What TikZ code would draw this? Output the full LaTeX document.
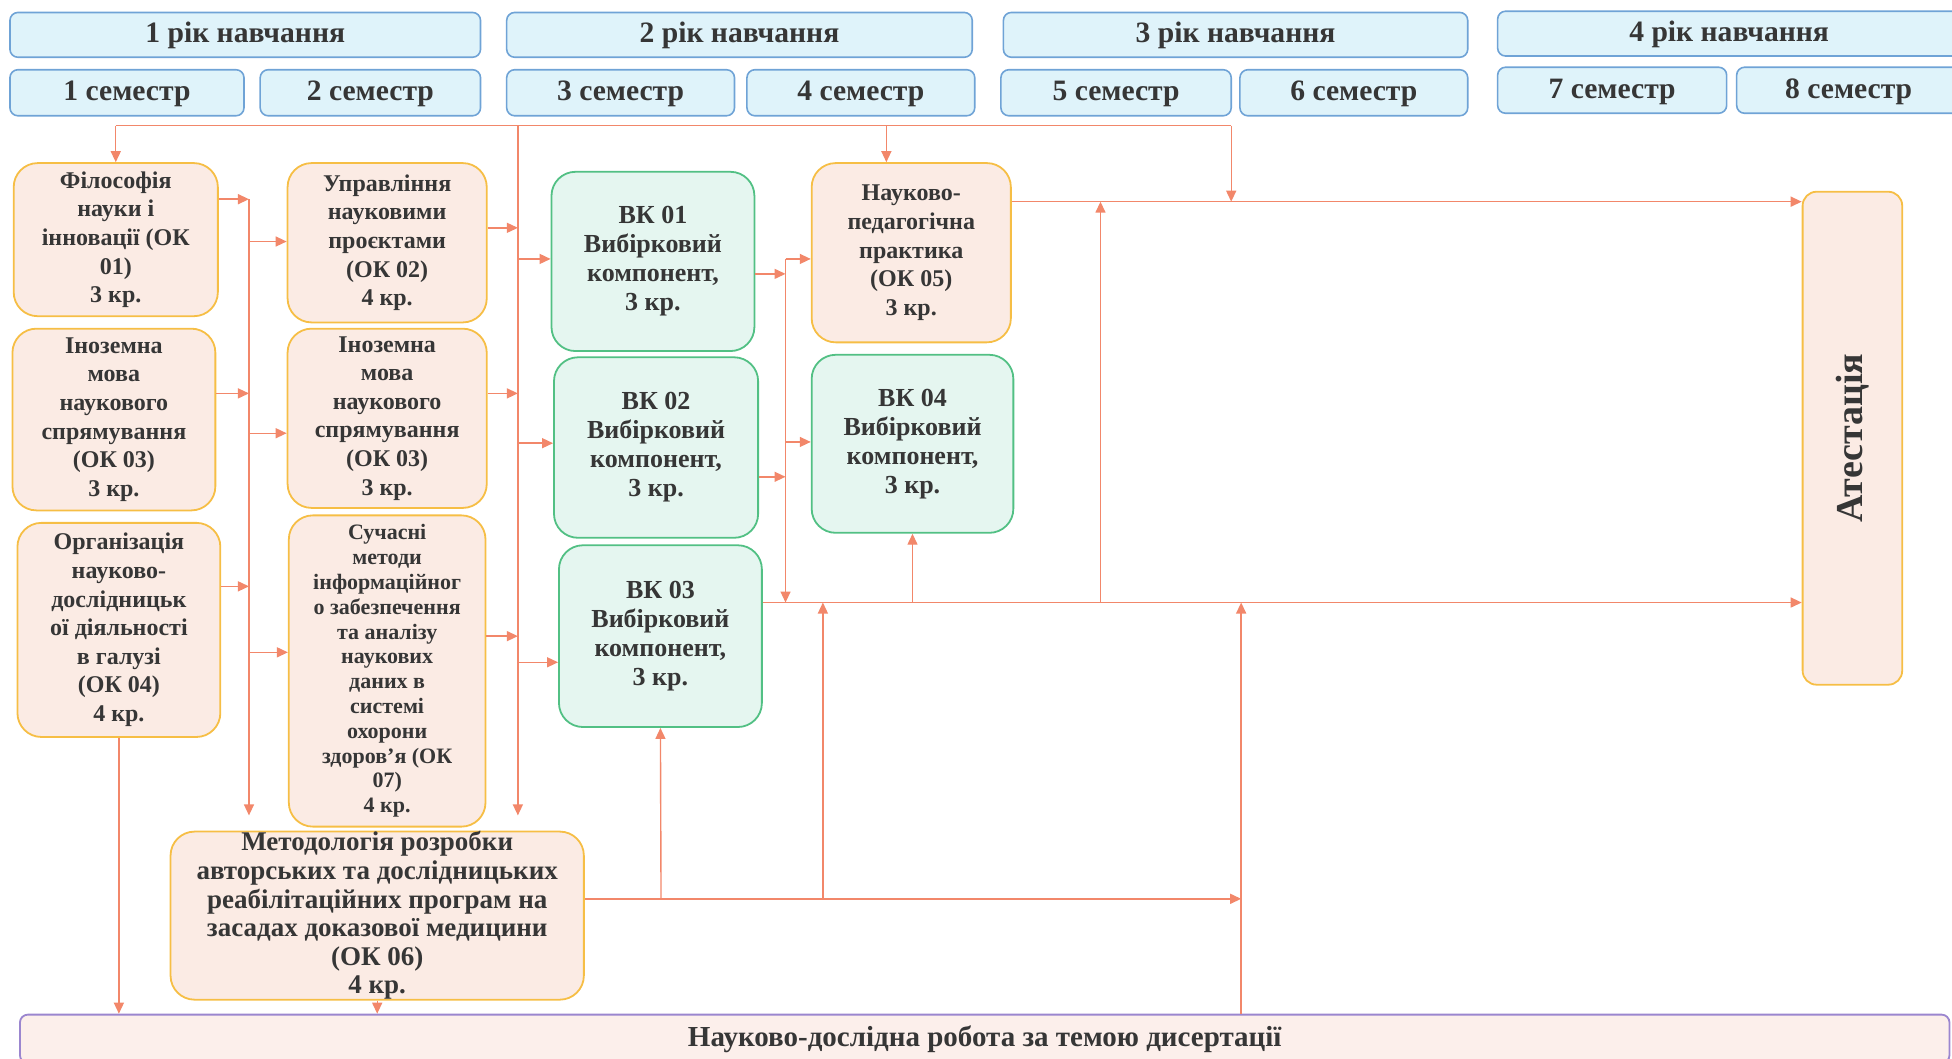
\documentclass[tikz,border=0pt]{standalone}
\usepackage{fontspec}
\usepackage{graphicx}
\setmainfont{Liberation Serif}
\usetikzlibrary{arrows.meta}

\newcommand{\planunit}{0.6224pt}

\definecolor{PlanText}{HTML}{363636}
\definecolor{PeriodLine}{HTML}{6FA3D6}
\definecolor{PeriodFill}{HTML}{DFF3FA}
\definecolor{CourseLine}{HTML}{F6BE45}
\definecolor{CourseFill}{HTML}{FBEBE4}
\definecolor{ElectiveLine}{HTML}{52C084}
\definecolor{ElectiveFill}{HTML}{E5F6F0}
\definecolor{ResearchLine}{HTML}{9B86CF}
\definecolor{ResearchFill}{HTML}{FCEFEB}
\definecolor{FlowOrange}{HTML}{F2876A}

\tikzstyle{period-box}=[draw=PeriodLine, fill=PeriodFill, rounded corners=4pt, line width=0.8pt,
      inner sep=0pt, text=PlanText, text height=10pt, text depth=2pt, font=\fontsize{14.8}{16}\selectfont\bfseries]
\tikzstyle{course-box}=[draw=CourseLine, fill=CourseFill, rounded corners=12pt, line width=0.9pt,
      inner sep=0pt, align=center, text=PlanText, font=\fontsize{12}{14.3}\selectfont\bfseries]
\tikzstyle{elective-box}=[course-box, draw=ElectiveLine, fill=ElectiveFill, font=\fontsize{13}{14.5}\selectfont\bfseries]
\tikzstyle{flow-line}=[draw=FlowOrange, line width=0.7pt]
\tikzstyle{flow}=[flow-line, -{Triangle[length=5.5pt, width=5pt]}]
\tikzset{box-size/.style 2 args={minimum width=#1*\planunit, minimum height=#2*\planunit}}

\begin{document}
\begin{tikzpicture}[x=\planunit, y=-\planunit]
      \useasboundingbox (0,0) rectangle (1568,850);

      \node (year-1) at (197, 28)   [period-box, box-size={378}{36}] {1 рік навчання};
      \node (year-2) at (594, 28)   [period-box, box-size={374}{36}] {2 рік навчання};
      \node (year-3) at (992.5, 28) [period-box, box-size={373}{36}] {3 рік навчання};
      \node (year-4) at (1389, 27)  [period-box, box-size={372}{36}] {4 рік навчання};

      \node (sem-1) at (102, 74.5)    [period-box, box-size={188}{37}] {1 семестр};
      \node (sem-2) at (297.5, 74.5)  [period-box, box-size={177}{37}] {2 семестр};
      \node (sem-3) at (498.5, 74.5)  [period-box, box-size={183}{37}] {3 семестр};
      \node (sem-4) at (691.5, 74.5)  [period-box, box-size={183}{37}] {4 семестр};
      \node (sem-5) at (896.5, 74.5)  [period-box, box-size={185}{37}] {5 семестр};
      \node (sem-6) at (1087.5, 74.5) [period-box, box-size={183}{37}] {6 семестр};
      \node (sem-7) at (1295, 72.5)   [period-box, box-size={184}{37}] {7 семестр};
      \node (sem-8) at (1485, 72.5)   [period-box, box-size={180}{37}] {8 семестр};

      \node (ok-01) at (93, 192.5)  [course-box, box-size={164}{123}]
            {Філософія\\науки і\\інновації (ОК\\01)\\3 кр.};
      \node (ok-03a) at (91.5, 337) [course-box, box-size={163}{146}]
            {Іноземна\\мова\\наукового\\спрямування\\(ОК 03)\\3 кр.};
      \node (ok-04) at (95.5, 506)  [course-box, box-size={163}{172}]
            {Організація\\науково-\\дослідницьк\\ої діяльності\\в галузі\\(ОК 04)\\4 кр.};
      \node (ok-02) at (311, 195)   [course-box, box-size={160}{128}]
            {Управління\\науковими\\проєктами\\(ОК 02)\\4 кр.};
      \node (ok-03b) at (311, 336)  [course-box, box-size={160}{144}]
            {Іноземна\\мова\\наукового\\спрямування\\(ОК 03)\\3 кр.};
      \node (ok-07) at (311, 539)   [course-box, box-size={158}{250}, font=\fontsize{11}{12.4}\selectfont\bfseries]
            {Сучасні\\методи\\інформаційног\\о забезпечення\\та аналізу\\наукових\\даних в\\системі\\охорони\\здоров’я (ОК\\07)\\4 кр.};
      \node (ok-06) at (303, 735.5) [course-box, box-size={332}{133}, font=\fontsize{13.5}{14.3}\selectfont\bfseries]
            {Методологія розробки\\авторських та дослідницьких\\реабілітаційних програм на\\засадах доказової медицини\\(ОК 06)\\4 кр.};
      \node (ok-05) at (732, 203)   [course-box, box-size={160}{144}]
            {Науково-\\педагогічна\\практика\\(ОК 05)\\3 кр.};

      \node (vk-01) at (524.5, 210) [elective-box, box-size={163}{144}] {ВК 01\\Вибірковий\\компонент,\\3 кр.};
      \node (vk-02) at (527, 359.5) [elective-box, box-size={164}{145}] {ВК 02\\Вибірковий\\компонент,\\3 кр.};
      \node (vk-03) at (530.5, 511) [elective-box, box-size={163}{146}] {ВК 03\\Вибірковий\\компонент,\\3 кр.};
      \node (vk-04) at (733, 356.5) [elective-box, box-size={162}{143}] {ВК 04\\Вибірковий\\компонент,\\3 кр.};

      \node (attest) at (1488, 352) [course-box, box-size={80}{396}, rounded corners=7pt,
            font=\fontsize{19}{24}\selectfont\bfseries] {\rotatebox{90}{Атестація}};
      \node (research) at (791, 834.5) [course-box, box-size={1550}{39}, rounded corners=4pt,
            draw=ResearchLine, fill=ResearchFill, font=\fontsize{14.5}{16}\selectfont\bfseries]
            {Науково-дослідна робота за темою дисертації};

      \coordinate (top-a) at (93, 101);
      \coordinate (top-b) at (416, 101);
      \coordinate (top-c) at (712, 101);
      \coordinate (top-d) at (989, 101);
      \coordinate (bus-a1) at (200, 160);
      \coordinate (bus-a2) at (200, 316);
      \coordinate (bus-a3) at (200, 471);
      \coordinate (bus-a4) at (200, 194);
      \coordinate (bus-a5) at (200, 348);
      \coordinate (bus-a6) at (200, 524);
      \coordinate (bus-a-end) at (200, 655);
      \coordinate (bus-b1) at (416, 183);
      \coordinate (bus-b2) at (416, 316);
      \coordinate (bus-b3) at (416, 511);
      \coordinate (bus-b4) at (416, 208);
      \coordinate (bus-b5) at (416, 356);
      \coordinate (bus-b6) at (416, 532);
      \coordinate (bus-b-end) at (416, 655);
      \coordinate (bus-c1) at (631, 220);
      \coordinate (bus-c2) at (631, 383);
      \coordinate (bus-c3) at (631, 208);
      \coordinate (bus-c4) at (631, 355);
      \coordinate (bus-c-end) at (631, 484);
      \coordinate (upper-a) at (884, 162);
      \coordinate (upper-d) at (989, 162);
      \coordinate (lower-a) at (733, 484);
      \coordinate (lower-b) at (884, 484);
      \coordinate (lower-c) at (661, 484);
      \coordinate (lower-d) at (997, 484);
      \coordinate (method-a) at (531, 722);
      \coordinate (method-b) at (661, 722);
      \coordinate (method-d) at (997, 722);

      \draw[flow-line] (top-a) -- (top-d);
      \draw[flow] (top-a) -- (ok-01.north);
      \draw[flow] (top-c) -- (top-c |- ok-05.north);
      \draw[flow] (top-d) -- (upper-d);
      \draw[flow] (top-b) -- (bus-b-end);
      \draw[flow] (bus-a1) -- (bus-a-end);

      \draw[flow] (ok-01.east |- bus-a1) -- (bus-a1);
      \draw[flow] (ok-03a.east |- bus-a2) -- (bus-a2);
      \draw[flow] (ok-04.east |- bus-a3) -- (bus-a3);
      \draw[flow] (bus-a4) -- (bus-a4 -| ok-02.west);
      \draw[flow] (bus-a5) -- (bus-a5 -| ok-03b.west);
      \draw[flow] (bus-a6) -- (bus-a6 -| ok-07.west);

      \draw[flow] (ok-02.east |- bus-b1) -- (bus-b1);
      \draw[flow] (ok-03b.east |- bus-b2) -- (bus-b2);
      \draw[flow] (ok-07.east |- bus-b3) -- (bus-b3);
      \draw[flow] (bus-b4) -- (bus-b4 -| vk-01.west);
      \draw[flow] (bus-b5) -- (bus-b5 -| vk-02.west);
      \draw[flow] (bus-b6) -- (bus-b6 -| vk-03.west);

      \draw[flow] (vk-01.east |- bus-c1) -- (bus-c1);
      \draw[flow] (vk-02.east |- bus-c2) -- (bus-c2);
      \draw[flow] (bus-c3) -- (bus-c-end);
      \draw[flow] (bus-c3) -- (bus-c3 -| ok-05.west);
      \draw[flow] (bus-c4) -- (bus-c4 -| vk-04.west);

      \draw[flow] (ok-05.east |- upper-a) -- (upper-a -| attest.west);
      \draw[flow] (vk-03.east |- lower-a) -- (lower-a -| attest.west);
      \draw[flow] (lower-a) -- (vk-04.south);
      \draw[flow] (lower-b) -- (upper-a);
      \draw[flow] (method-b) -- (lower-c);
      \draw[flow] (ok-06.east |- method-a) -- (method-d);
      \draw[flow] (method-a) -- (vk-03.south);
      \draw[flow] (lower-d |- research.north) -- (lower-d);
      \draw[flow] (ok-04.south) -- (ok-04.south |- research.north);
      \draw[flow] (ok-06.south) -- (ok-06.south |- research.north);
\end{tikzpicture}
\end{document}
